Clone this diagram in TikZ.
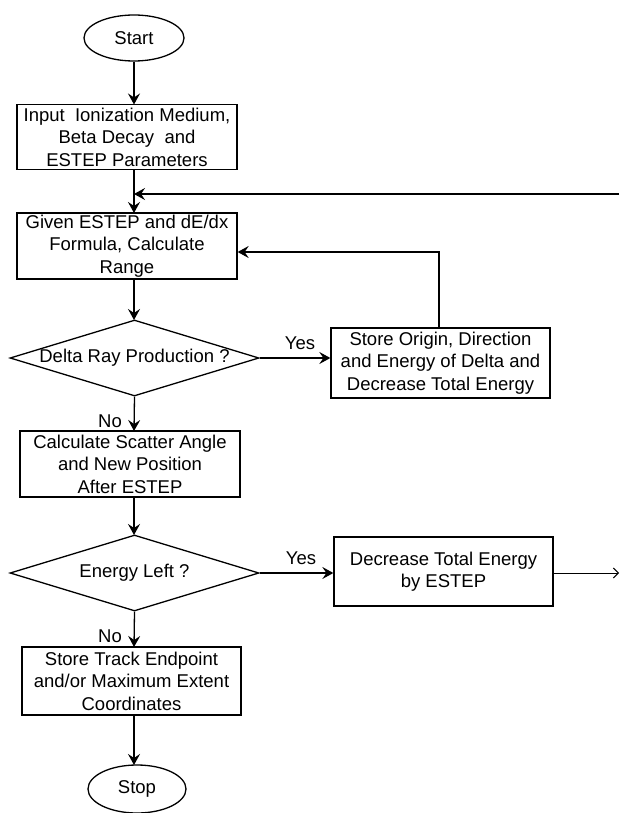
\documentclass[tikz,border=0pt]{standalone}
\usepackage{fontspec}
\setmainfont{Liberation Sans}
\usetikzlibrary{shapes.geometric,arrows.meta}
\begin{document}
\begin{tikzpicture}[x=1pt,y=1pt,
  every node/.style={font=\fontsize{18.5}{22.5}\selectfont},
  box/.style={draw, line width=1.3pt, align=center, inner sep=0pt, rectangle},
  term/.style={draw, ellipse, line width=1.3pt, inner sep=0pt},
  decision/.style={draw, diamond, line width=1.3pt, inner sep=0pt, shape aspect=3.28},
  lbl/.style={inner sep=0pt},
  arr/.style={-{Stealth[length=11pt,width=12pt,inset=4pt]}, line width=1.3pt},
  thinarr/.style={-{Straight Barb[length=5pt,width=10pt]}, line width=1pt}]
\useasboundingbox (0,0) rectangle (619,-813);

\node[term, minimum width=100, minimum height=46] (start) at (134,-38) {Start};
\node[box, minimum width=220, minimum height=65] (b1) at (127,-137)
  {Input\ \ Ionization Medium,\\Beta Decay\ \ and\\ESTEP Parameters};
\node[box, minimum width=220, minimum height=66] (b2) at (127,-246)
  {Given ESTEP and dE/dx\\Formula, Calculate\\Range};
\node[decision, minimum width=249, minimum height=76] (d1) at (134.5,-358)
  {Delta Ray Production ?};
\node[box, minimum width=219, minimum height=70] (b3) at (440.5,-363)
  {Store Origin, Direction\\and Energy of Delta and\\Decrease Total Energy};
\node[box, minimum width=220, minimum height=66] (b4) at (130,-464)
  {Calculate Scatter Angle\\and New Position\\After ESTEP};
\node[decision, minimum width=249, minimum height=76] (d2) at (134.5,-573)
  {Energy Left ?};
\node[box, minimum width=219, minimum height=69] (b5) at (443.5,-571.5)
  {Decrease Total Energy\\by ESTEP};
\node[box, minimum width=219, minimum height=68] (b6) at (131.5,-681)
  {Store Track Endpoint\\and/or Maximum Extent\\Coordinates};
\node[term, minimum width=98, minimum height=48] (stop) at (137,-789) {Stop};

\node[lbl] (yes1) at (300,-343) {Yes};
\node[lbl] (yes2) at (301,-558) {Yes};
\node[lbl] (no1) at (110,-421) {No};
\node[lbl] (no2) at (110,-636) {No};

\coordinate (fbR) at (619,-194);
\coordinate (outR) at (619,-573);
\coordinate (fbX) at (439,-252);
\coordinate (t1) at (134,-104.5);
\coordinate (t2) at (134,-213);
\coordinate (t3) at (134,-320);
\coordinate (t4) at (134,-431);
\coordinate (t5) at (134,-535);
\coordinate (t6) at (134,-647);
\coordinate (t7) at (134,-765);

\draw[arr] (start.south) -- (t1);
\draw[arr] (b1.south -| t1) -- (t2);
\draw[arr] (fbR) -- (fbR -| start);
\draw[arr] (b2.south -| t1) -- (t3);
\draw[arr] (d1.east) -- (d1.east -| b3.west);
\draw[arr] (b3.north -| fbX) -- (fbX) -- (b2.east |- fbX);
\draw[arr] (d1.south) -- (t4);
\draw[arr] (b4.south -| t1) -- (t5);
\draw[arr] (d2.east) -- (d2.east -| b5.west);
\draw[thinarr] (b5.east |- outR) -- (outR);
\draw[arr] (d2.south) -- (t6);
\draw[arr] (b6.south -| t1) -- (t7);
\end{tikzpicture}
\end{document}
